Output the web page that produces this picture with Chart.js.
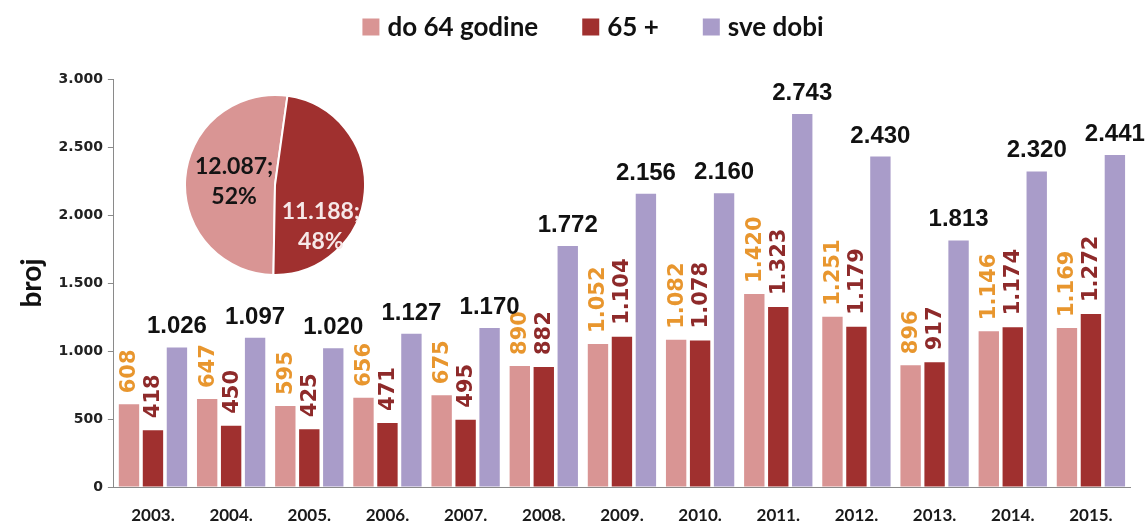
<!DOCTYPE html>
<html><head><meta charset="utf-8">
<script src="https://cdn.jsdelivr.net/npm/chart.js@4/dist/chart.umd.min.js"></script>
<style>
html,body{margin:0;padding:0;background:#fff;}
#wrap{position:relative;width:1147px;height:527px;overflow:hidden;}
#bar{position:absolute;left:0;top:0;}
#pie{position:absolute;left:184px;top:94px;}
</style></head><body>
<div id="wrap"><canvas id="bar" width="1147" height="527"></canvas><canvas id="pie" width="182" height="182"></canvas></div>
<script>
const years = ['2003.','2004.','2005.','2006.','2007.','2008.','2009.','2010.','2011.','2012.','2013.','2014.','2015.'];
const under65 = [608,647,595,656,675,890,1052,1082,1420,1251,896,1146,1169];
const over65  = [418,450,425,471,495,882,1104,1078,1323,1179,917,1174,1272];
const allAges = [1026,1097,1020,1127,1170,1772,2156,2160,2743,2430,1813,2320,2441];
const seriesNames = ['do 64 godine','65 +','sve dobi'];
const pieValues = [12087, 11188];
const yTitle = 'broj';

const colPink = '#D99594', colDark = '#A0302F', colPurple = '#A99CC9';

function fmt(n){ return n >= 1000 ? Math.floor(n/1000) + '.' + String(n % 1000).padStart(3,'0') : String(n); }

const legendPlugin = {
  id:'customLegend',
  afterDraw(chart){
    const ctx = chart.ctx; ctx.save();
    ctx.font = 'bold 26px Lato';
    const box = 17, gapText = 8, gapItem = 44, cx = 593, cy = 27;
    const items = chart.data.datasets.map(d => ({t:d.label, c:d.backgroundColor, w:ctx.measureText(d.label).width}));
    const total = items.reduce((s,it)=>s+box+gapText+it.w,0) + gapItem*(items.length-1);
    let x = cx - total/2;
    items.forEach(it => {
      ctx.fillStyle = it.c; ctx.fillRect(x, cy - box/2, box, box);
      ctx.fillStyle = '#111'; ctx.textBaseline = 'middle'; ctx.textAlign = 'left';
      ctx.fillText(it.t, x + box + gapText, cy + 1);
      x += box + gapText + it.w + gapItem;
    });
    ctx.restore();
  }
};

const barLabelPlugin = {
  id:'barLabels',
  afterDatasetsDraw(chart){
    const ctx = chart.ctx;
    chart.data.datasets.forEach((ds, di) => {
      const meta = chart.getDatasetMeta(di);
      meta.data.forEach((bar, i) => {
        const txt = fmt(ds.data[i]);
        ctx.save();
        if (di === 2) {
          ctx.font = 'bold 24px "Liberation Sans", Arial, sans-serif';
          ctx.fillStyle = '#111'; ctx.textAlign = 'center'; ctx.textBaseline = 'alphabetic';
          ctx.fillText(txt, bar.x, bar.y - 14);
        } else {
          ctx.font = 'bold 21px "DejaVu Sans", sans-serif';
          ctx.fillStyle = di === 0 ? '#E8962E' : '#8E2A2A';
          ctx.translate(bar.x, bar.y - (di === 0 ? 11 : 12));
          ctx.rotate(-Math.PI/2);
          ctx.textAlign = 'left'; ctx.textBaseline = 'middle';
          ctx.fillText(txt, 0, 1);
        }
        ctx.restore();
      });
    });
  }
};

const pieLabelPlugin = {
  id:'pieLabels',
  afterDatasetsDraw(chart){
    const ctx = chart.ctx;
    const data = chart.data.datasets[0].data;
    const total = data.reduce((a,b)=>a+b,0);
    const colors = ['#141414', '#F6E8E8'];
    const dy = [0, 38], dx = [4, 1];
    chart.getDatasetMeta(0).data.forEach((arc, i) => {
      const p = arc.tooltipPosition();
      ctx.save();
      ctx.font = 'bold 23px Lato';
      ctx.fillStyle = colors[i]; ctx.textAlign = 'center'; ctx.textBaseline = 'middle';
      ctx.fillText(fmt(data[i]) + ';', p.x + dx[i], p.y + dy[i] - 15);
      ctx.fillText(Math.round(data[i]/total*100) + '%', p.x + dx[i], p.y + dy[i] + 15);
      ctx.restore();
    });
  }
};

function draw(){
  new Chart(document.getElementById('bar'), {
    type:'bar',
    data:{
      labels: years,
      datasets:[
        {label: seriesNames[0], data: under65, backgroundColor: colPink},
        {label: seriesNames[1], data: over65, backgroundColor: colDark},
        {label: seriesNames[2], data: allAges, backgroundColor: colPurple}
      ]
    },
    options:{
      responsive:false, animation:false, devicePixelRatio:1,
      categoryPercentage:0.92, barPercentage:0.85,
      layout:{padding:{top:79, right:17, bottom:3, left:15}},
      plugins:{legend:{display:false}, tooltip:{enabled:false}},
      scales:{
        x:{
          grid:{display:true, drawOnChartArea:false, drawTicks:false},
          border:{display:true, color:'#8a8a8a', width:1},
          ticks:{color:'#1a1a1a', padding:18, font:{family:'Lato', weight:'bold', size:17}},
          afterFit:(s)=>{ s.height = 37; }
        },
        y:{
          min:0, max:3000,
          grid:{display:true, drawOnChartArea:false, drawTicks:true, tickLength:6, color:'#8a8a8a'},
          border:{display:true, color:'#8a8a8a', width:1},
          ticks:{stepSize:500, color:'#222', padding:5, font:{family:'DejaVu Sans', weight:'bold', size:14}, callback:(v)=>fmt(v)},
          title:{display:true, text:yTitle, color:'#111', padding:{top:0, bottom:5}, font:{family:'Lato', weight:'bold', size:28}}
        }
      }
    },
    plugins:[legendPlugin, barLabelPlugin]
  });

  new Chart(document.getElementById('pie'), {
    type:'pie',
    data:{ labels:[seriesNames[0], seriesNames[1]], datasets:[{data: pieValues, backgroundColor:[colPink, colDark], borderColor:'#fff', borderWidth:2}] },
    options:{
      responsive:false, animation:false, devicePixelRatio:1, rotation:181,
      layout:{padding:0},
      plugins:{legend:{display:false}, tooltip:{enabled:false}}
    },
    plugins:[pieLabelPlugin]
  });
}

const fontLoads = ['bold 26px Lato','bold 14px "DejaVu Sans"','bold 24px "Liberation Sans"'].map(f => document.fonts.load(f).catch(()=>null));
Promise.all(fontLoads).then(draw, draw);
</script>
</body></html>
